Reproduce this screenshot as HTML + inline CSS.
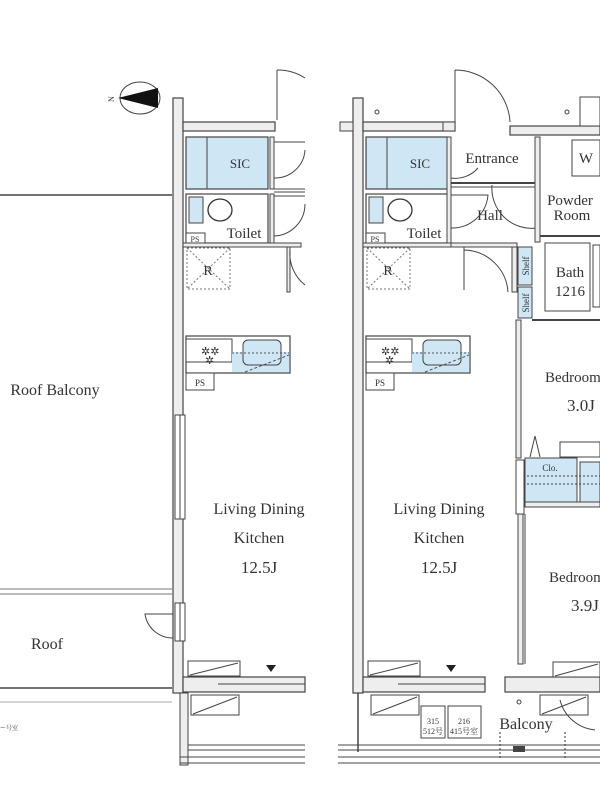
<!DOCTYPE html>
<html><head><meta charset="utf-8"><style>
html,body{margin:0;padding:0;background:#fff;width:600px;height:800px;overflow:hidden}
svg{display:block}
text{font-family:"Liberation Serif","Noto Serif CJK SC",serif;fill:#333}
</style></head><body>
<svg width="600" height="800" viewBox="0 0 600 800" xmlns="http://www.w3.org/2000/svg">
<defs>
<g id="unit">
  <rect x="173" y="98" width="10" height="595" fill="#eee" stroke="#444" stroke-width="1.2"/>
  <rect x="183" y="122" width="92" height="9" fill="#eee" stroke="#444" stroke-width="1.2"/>
  <rect x="186" y="137" width="82" height="52" fill="#cfe6f5" stroke="#444" stroke-width="1.2"/>
  <line x1="207" y1="137" x2="207" y2="189" stroke="#444"/>
  <text x="240" y="168" font-size="13" text-anchor="middle">SIC</text>
  <rect x="186" y="194" width="82" height="49" fill="none" stroke="#444" stroke-width="1.2"/>
  <rect x="189" y="197" width="14" height="26" fill="#cfe6f5" stroke="#444"/>
  <ellipse cx="220" cy="210" rx="12" ry="11" fill="#fff" stroke="#333" stroke-width="1.3"/>
  <rect x="186" y="233" width="19" height="10" fill="#fff" stroke="#444"/>
  <text x="195" y="242" font-size="8" text-anchor="middle">PS</text>
  <text x="244" y="238" font-size="15" text-anchor="middle">Toilet</text>
  <rect x="183" y="243" width="118" height="4" fill="#eee" stroke="#444"/>
  <rect x="187" y="248" width="43" height="41" fill="none" stroke="#777" stroke-dasharray="2,2"/>
  <line x1="187" y1="248" x2="230" y2="289" stroke="#777" stroke-dasharray="2,2"/>
  <line x1="230" y1="248" x2="187" y2="289" stroke="#777" stroke-dasharray="2,2"/>
  <text x="208" y="275" font-size="14" text-anchor="middle">R</text>
  <rect x="186" y="336" width="104" height="37" fill="none" stroke="#444" stroke-width="1.2"/>
  <rect x="186" y="339" width="46" height="23" fill="#fff" stroke="#444"/>
  <rect x="232" y="352" width="57" height="20" fill="#cfe6f5" stroke="none"/>
  <rect x="243" y="340" width="38" height="25" rx="5" fill="#cfe6f5" stroke="#444"/>
  <line x1="232" y1="353" x2="289" y2="353" stroke="#555" stroke-dasharray="2,2"/>
  <line x1="245" y1="372" x2="289" y2="355" stroke="#555" stroke-dasharray="3,2"/>
  <text x="201" y="355" font-size="11">✲✲</text>
  <text x="205" y="364" font-size="11">✲</text>
  <rect x="186" y="373" width="28" height="17" fill="#fff" stroke="#444"/>
  <text x="200" y="386" font-size="9" text-anchor="middle">PS</text>
  <text x="259" y="514" font-size="16" text-anchor="middle">Living Dining</text>
  <text x="259" y="543" font-size="16" text-anchor="middle">Kitchen</text>
  <text x="259" y="573" font-size="17" text-anchor="middle">12.5J</text>
  <rect x="188" y="661" width="52" height="15" fill="#fff" stroke="#444"/>
  <line x1="190" y1="675" x2="238" y2="663" stroke="#444"/>
  <polygon points="266,665 276,665 271,672" fill="#222"/>
  <rect x="183" y="677" width="122" height="15" fill="#eee" stroke="#444" stroke-width="1.2"/>
  <line x1="218" y1="684" x2="305" y2="684" stroke="#444"/>
  <rect x="191" y="695" width="48" height="20" fill="#fff" stroke="#444"/>
  <line x1="193" y1="714" x2="237" y2="697" stroke="#444"/>
</g>
</defs>

<ellipse cx="140" cy="98" rx="20" ry="16" fill="#fff" stroke="#444" stroke-width="1"/>
<polygon points="118,98 158,88 158,108" fill="#111"/>
<text x="108" y="102" font-size="8" fill="#333" transform="rotate(-90 111 99)">N</text>

<line x1="0" y1="195" x2="172" y2="195" stroke="#444" stroke-width="1.5"/>
<line x1="0" y1="589" x2="172" y2="589" stroke="#777"/>
<line x1="0" y1="594" x2="172" y2="594" stroke="#777"/>
<line x1="0" y1="688" x2="172" y2="688" stroke="#444" stroke-width="1.5"/>
<line x1="0" y1="702" x2="172" y2="702" stroke="#aaa"/>
<text x="55" y="395" font-size="16" text-anchor="middle">Roof Balcony</text>
<text x="47" y="649" font-size="16" text-anchor="middle">Roof</text>
<text x="0" y="730" font-size="6">ー号室</text>
<path d="M173 638 A 28 28 0 0 1 145 614 L173 614" fill="none" stroke="#444"/>

<use href="#unit"/>
<rect x="175" y="415" width="10" height="104" fill="#fff" stroke="#444"/>
<line x1="180" y1="415" x2="180" y2="519" stroke="#444"/>
<rect x="175" y="603" width="10" height="38" fill="#fff" stroke="#444"/>
<line x1="180" y1="603" x2="180" y2="641" stroke="#444"/>
<rect x="270" y="194" width="4" height="49" fill="#eee" stroke="#444"/>
<rect x="270" y="137" width="4" height="52" fill="#eee" stroke="#444"/>
<path d="M274 142 L305 142 M274 178 A 30 30 0 0 0 305 150" fill="none" stroke="#444"/>
<path d="M274 196 L305 196 M274 236 A 32 32 0 0 0 305 204" fill="none" stroke="#444"/>
<line x1="274" y1="189" x2="305" y2="189" stroke="#444"/>
<line x1="274" y1="192" x2="305" y2="192" stroke="#444"/>
<path d="M277 120 L277 70 M277 70 A 50 50 0 0 1 305 78" fill="none" stroke="#444"/>
<rect x="287" y="247" width="3" height="45" fill="#eee" stroke="#444"/>
<path d="M290 250 A 40 40 0 0 0 305 285" fill="none" stroke="#444"/>
<rect x="180" y="693" width="8" height="72" fill="#eee" stroke="#444"/>
<line x1="188" y1="745" x2="305" y2="745" stroke="#444"/>
<line x1="188" y1="750" x2="305" y2="750" stroke="#444"/>
<line x1="180" y1="757" x2="305" y2="757" stroke="#444"/>
<line x1="180" y1="763" x2="305" y2="763" stroke="#444"/>

<g transform="translate(180,0)"><use href="#unit"/></g>
<rect x="340" y="122" width="13" height="9" fill="#eee" stroke="#444"/>
<circle cx="377" cy="112" r="2" fill="none" stroke="#444"/>
<circle cx="567" cy="112" r="2" fill="none" stroke="#444"/>
<rect x="443" y="122" width="12" height="9" fill="#eee" stroke="#444"/>
<path d="M455 122 L455 70 M455 70 A 55 55 0 0 1 510 122" fill="none" stroke="#444"/>
<rect x="510" y="126" width="90" height="9" fill="#eee" stroke="#444" stroke-width="1.2"/>
<rect x="580" y="97" width="20" height="29" fill="#fff" stroke="#444"/>
<rect x="447" y="137" width="4" height="106" fill="#eee" stroke="#444"/>
<line x1="451" y1="183" x2="537" y2="183" stroke="#444" stroke-width="2"/>
<line x1="451" y1="187" x2="537" y2="187" stroke="#444"/>
<path d="M451 178 A 30 30 0 0 0 478 168" fill="none" stroke="#444"/>
<text x="492" y="163" font-size="15" text-anchor="middle">Entrance</text>
<text x="490" y="220" font-size="15" text-anchor="middle">Hall</text>
<path d="M451 228 A 36 36 0 0 0 488 195 L451 195" fill="none" stroke="#444"/>
<path d="M492 185 A 40 40 0 0 0 537 228" fill="none" stroke="#444"/>
<rect x="535" y="137" width="5" height="105" fill="#eee" stroke="#444"/>
<rect x="572" y="140" width="28" height="36" fill="#fff" stroke="#444"/>
<text x="586" y="163" font-size="15" text-anchor="middle">W</text>
<text x="570" y="205" font-size="15" text-anchor="middle">Powder</text>
<text x="572" y="220" font-size="15" text-anchor="middle">Room</text>
<line x1="540" y1="236" x2="600" y2="236" stroke="#444" stroke-width="2"/>
<rect x="451" y="243" width="66" height="4" fill="#eee" stroke="#444"/>
<path d="M464 247 L464 290 M464 250 A 45 45 0 0 1 508 292" fill="none" stroke="#444"/>
<rect x="512" y="247" width="5" height="45" fill="#eee" stroke="#444"/>
<rect x="518" y="247" width="14" height="38" fill="#cfe6f5" stroke="#444"/>
<rect x="518" y="287" width="14" height="31" fill="#cfe6f5" stroke="#444"/>
<text x="529" y="266" font-size="9" text-anchor="middle" transform="rotate(-90 529 266)">Shelf</text>
<text x="529" y="303" font-size="9" text-anchor="middle" transform="rotate(-90 529 303)">Shelf</text>
<rect x="545" y="243" width="45" height="68" fill="#fff" stroke="#444"/>
<text x="570" y="277" font-size="15" text-anchor="middle">Bath</text>
<text x="570" y="296" font-size="15" text-anchor="middle">1216</text>
<rect x="593" y="245" width="7" height="62" fill="none" stroke="#444"/>
<line x1="532" y1="320" x2="600" y2="320" stroke="#444" stroke-width="2"/>
<rect x="516" y="320" width="5" height="138" fill="#eee" stroke="#444"/>
<rect x="516" y="460" width="8" height="54" fill="#fff" stroke="#444"/>
<rect x="518" y="514" width="5" height="150" fill="#eee" stroke="#444"/>
<line x1="525" y1="514" x2="525" y2="664" stroke="#444"/>
<text x="545" y="382" font-size="15">Bedroom</text>
<text x="567" y="411" font-size="17">3.0J</text>
<path d="M530 457 L535 436 L540 457" fill="none" stroke="#444"/>
<rect x="560" y="442" width="40" height="15" fill="#fff" stroke="#444"/>
<rect x="525" y="458" width="52" height="44" fill="#cfe6f5" stroke="#444"/>
<rect x="580" y="462" width="20" height="40" fill="#cfe6f5" stroke="#444"/>
<line x1="527" y1="476" x2="600" y2="476" stroke="#444" stroke-dasharray="2,2"/>
<line x1="527" y1="484" x2="600" y2="484" stroke="#444" stroke-dasharray="2,2"/>
<text x="550" y="471" font-size="9" text-anchor="middle">Clo.</text>
<rect x="525" y="502" width="75" height="5" fill="#eee" stroke="#444"/>
<text x="549" y="582" font-size="15">Bedroom</text>
<text x="571" y="611" font-size="17">3.9J</text>
<rect x="505" y="677" width="95" height="15" fill="#eee" stroke="#444" stroke-width="1.2"/>
<rect x="553" y="662" width="47" height="15" fill="#fff" stroke="#444"/>
<line x1="555" y1="676" x2="598" y2="664" stroke="#444"/>
<rect x="540" y="695" width="48" height="20" fill="#fff" stroke="#444"/>
<line x1="542" y1="714" x2="586" y2="697" stroke="#444"/>
<path d="M560 700 A 40 40 0 0 0 595 730" fill="none" stroke="#444"/>
<circle cx="519" cy="702" r="2" fill="none" stroke="#444"/>
<line x1="358" y1="693" x2="358" y2="752" stroke="#444" stroke-width="1.5"/>
<rect x="421" y="706" width="24" height="32" fill="#fff" stroke="#444"/>
<rect x="448" y="706" width="33" height="32" fill="#fff" stroke="#444"/>
<text x="433" y="724" font-size="8" text-anchor="middle">315</text>
<text x="433" y="734" font-size="8" text-anchor="middle">512号</text>
<text x="464" y="724" font-size="8" text-anchor="middle">216</text>
<text x="464" y="734" font-size="8" text-anchor="middle">415号室</text>
<text x="526" y="729" font-size="16" text-anchor="middle">Balcony</text>
<line x1="500" y1="732" x2="500" y2="758" stroke="#333" stroke-dasharray="2,2"/>
<line x1="565" y1="732" x2="565" y2="758" stroke="#333" stroke-dasharray="2,2"/>
<rect x="513" y="746" width="12" height="6" fill="#444"/>
<line x1="338" y1="745" x2="600" y2="745" stroke="#444"/>
<line x1="338" y1="750" x2="600" y2="750" stroke="#444"/>
<line x1="338" y1="757" x2="600" y2="757" stroke="#444"/>
<line x1="338" y1="763" x2="600" y2="763" stroke="#444"/>
</svg>
</body></html>
